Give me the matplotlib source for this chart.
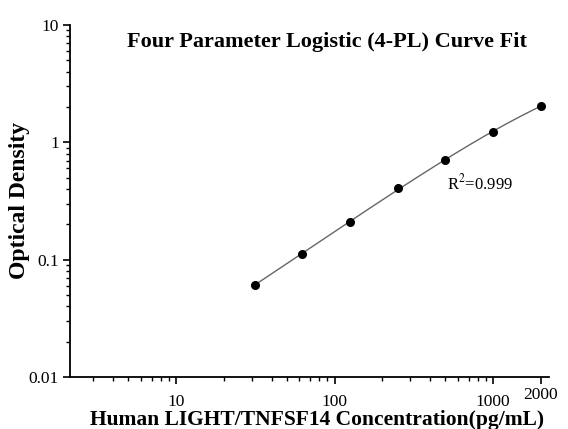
import numpy as np
import matplotlib
matplotlib.use("Agg")
import matplotlib.pyplot as plt
import matplotlib.transforms as mtransforms
from matplotlib.ticker import LogLocator, FixedLocator, FixedFormatter, NullFormatter

plt.rcParams['font.family'] = ['Liberation Serif', 'DejaVu Serif']
plt.rcParams['mathtext.fontset'] = 'stix'

# standard concentrations (pg/mL) and measured OD
conc = [31.25, 62.5, 125, 250, 500, 1000, 2000]
od = [0.061, 0.112, 0.211, 0.405, 0.712, 1.224, 2.05]

x_ticks = [10, 100, 1000, 2000]
x_ticklabels = ["10", "100", "1000", "2000"]
y_ticks = [0.01, 0.1, 1, 10]
y_ticklabels = ["0.01", "0.1", "1", "10"]

title = "Four Parameter Logistic (4-PL) Curve Fit"
xlabel = "Human LIGHT/TNFSF14 Concentration(pg/mL)"
ylabel = "Optical Density"
r2_text = "R$^2$=0.999"


def fit_4pl(x, y):
    # grid over slope b and midpoint c, solve a and d by least squares
    x = np.asarray(x, float)
    y = np.asarray(y, float)
    best = None
    for b in np.linspace(0.5, 1.6, 111):
        for lc in np.linspace(2.0, 5.5, 141):
            c = 10 ** lc
            g = 1.0 / (1.0 + (x / c) ** b)
            A = np.column_stack([g, 1 - g]) / y[:, None]
            sol, *_ = np.linalg.lstsq(A, np.ones_like(y), rcond=None)
            a, d = sol
            pred = a * g + d * (1 - g)
            if np.any(pred <= 0):
                continue
            err = np.sum(np.log(pred / y) ** 2)
            if best is None or err < best[0]:
                best = (err, a, b, c, d)
    return best[1:]


a, b, c, d = fit_4pl(conc, od)
xs = np.logspace(np.log10(conc[0]), np.log10(conc[-1]), 200)
ys = d + (a - d) / (1 + (xs / c) ** b)

fig = plt.figure(figsize=(5.68, 4.29), dpi=100)
ax = fig.add_axes([0.1232, 0.1212, 0.8433, 0.8205])

ax.plot(xs, ys, color="#666666", lw=1.0, zorder=2)
ax.plot(conc, od, "o", color="black", ms=5.5, zorder=3)

ax.set_xscale("log")
ax.set_yscale("log")
ax.set_xlim(2.14, 2250)
ax.set_ylim(0.01, 10)

ax.xaxis.set_major_locator(FixedLocator(x_ticks))
ax.xaxis.set_major_formatter(FixedFormatter(x_ticklabels))
ax.xaxis.set_minor_locator(LogLocator(base=10, subs=np.arange(2, 10)))
ax.xaxis.set_minor_formatter(NullFormatter())
ax.yaxis.set_major_locator(FixedLocator(y_ticks))
ax.yaxis.set_major_formatter(FixedFormatter(y_ticklabels))
ax.yaxis.set_minor_locator(LogLocator(base=10, subs=np.arange(2, 10)))
ax.yaxis.set_minor_formatter(NullFormatter())

for s in ["top", "right"]:
    ax.spines[s].set_visible(False)
for s in ["left", "bottom"]:
    ax.spines[s].set_linewidth(1.3)

ax.tick_params(which="major", direction="out", length=5, width=1.2, labelsize=12.5)
ax.tick_params(which="minor", direction="out", length=3, width=1.0)
ax.tick_params(axis="x", which="major", pad=7)
ax.tick_params(axis="y", which="major", pad=3)

# the "2000" label sits a bit higher than the others
lbl = ax.xaxis.get_majorticklabels()[-1]
lbl.set_transform(lbl.get_transform() +
                  mtransforms.ScaledTranslation(0, 5 / 72, fig.dpi_scale_trans))

fig.text(317 / 568, 1 - 425 / 429, xlabel, ha="center", va="baseline",
         fontsize=15.5, fontweight="bold")
fig.text(20 / 568, 1 - 200 / 429, ylabel, ha="center", va="center",
         rotation=90, fontsize=17, fontweight="bold")

ax.text(0.537, 0.952, title, transform=ax.transAxes, ha="center", va="center",
        fontsize=16, fontweight="bold")
ax.text(513, 0.447, r2_text, ha="left", va="center", fontsize=12)

fig.savefig("out.png", dpi=100)
